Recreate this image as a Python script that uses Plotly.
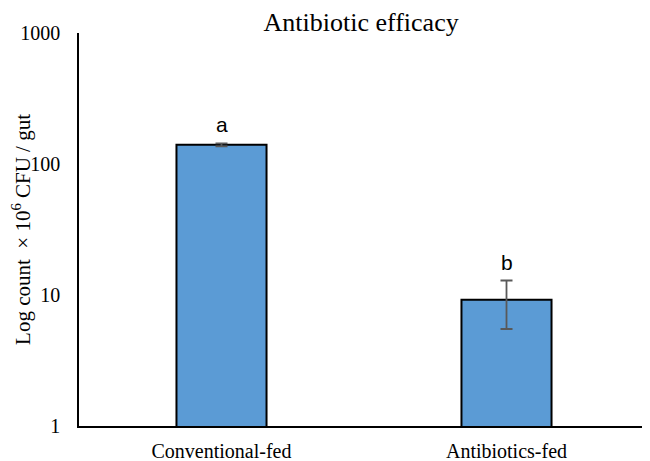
import plotly.graph_objects as go
import math

categories = ["Conventional-fed", "Antibiotics-fed"]
values = [140, 9.2]
errors = [3.5, 3.7]
letters = ["a", "b"]
y_ticks = [1, 10, 100, 1000]
y_title = "Log count  × 10<sup>6</sup> CFU / gut"

fig = go.Figure()
fig.add_trace(go.Bar(
    x=categories, y=values, width=0.316,
    marker=dict(color="#5B9BD5", line=dict(color="black", width=2)),
    error_y=dict(type="data", array=errors, visible=True, color="#595959",
                 thickness=1.8, width=6),
))
for c, v, e, l in zip(categories, values, errors, letters):
    fig.add_annotation(x=c, y=math.log10(v + e), text=l, showarrow=False,
                       yanchor="bottom", yshift=5,
                       font=dict(family="Liberation Sans, Arial", size=21, color="black"))

fig.add_annotation(xref="paper", yref="paper", x=-0.101, y=0.5, text=y_title,
                   textangle=-90, showarrow=False, xanchor="center", yanchor="middle",
                   font=dict(family="Liberation Serif, Times New Roman", size=21, color="black"))

# page body has an 8px default margin; compensate so the chart lands where the reference has it
fig.update_layout(
    width=642, height=453,
    margin=dict(l=71, r=1, t=25, b=35),
    paper_bgcolor="white", plot_bgcolor="white",
    showlegend=False,
    title=dict(text="Antibiotic efficacy", x=0.55, xanchor="center", yref="container",
               y=1, yanchor="top", pad=dict(t=5),
               font=dict(family="Liberation Serif, Times New Roman", size=26, color="black")),
    xaxis=dict(range=[-0.5, 1.5], showline=True, linecolor="black", linewidth=1.5,
               ticks="", showgrid=False, automargin=False, ticklabelstandoff=6,
               tickfont=dict(family="Liberation Serif, Times New Roman", size=20, color="black")),
    yaxis=dict(type="log", range=[0, 3], showline=True, linecolor="black", linewidth=1.5,
               ticks="", showgrid=False, tickvals=y_ticks, ticktext=[str(t) for t in y_ticks],
               ticklabelstandoff=13, automargin=False,
               tickfont=dict(family="Liberation Serif, Times New Roman", size=20, color="black")),
)
fig.write_html("out.html")
